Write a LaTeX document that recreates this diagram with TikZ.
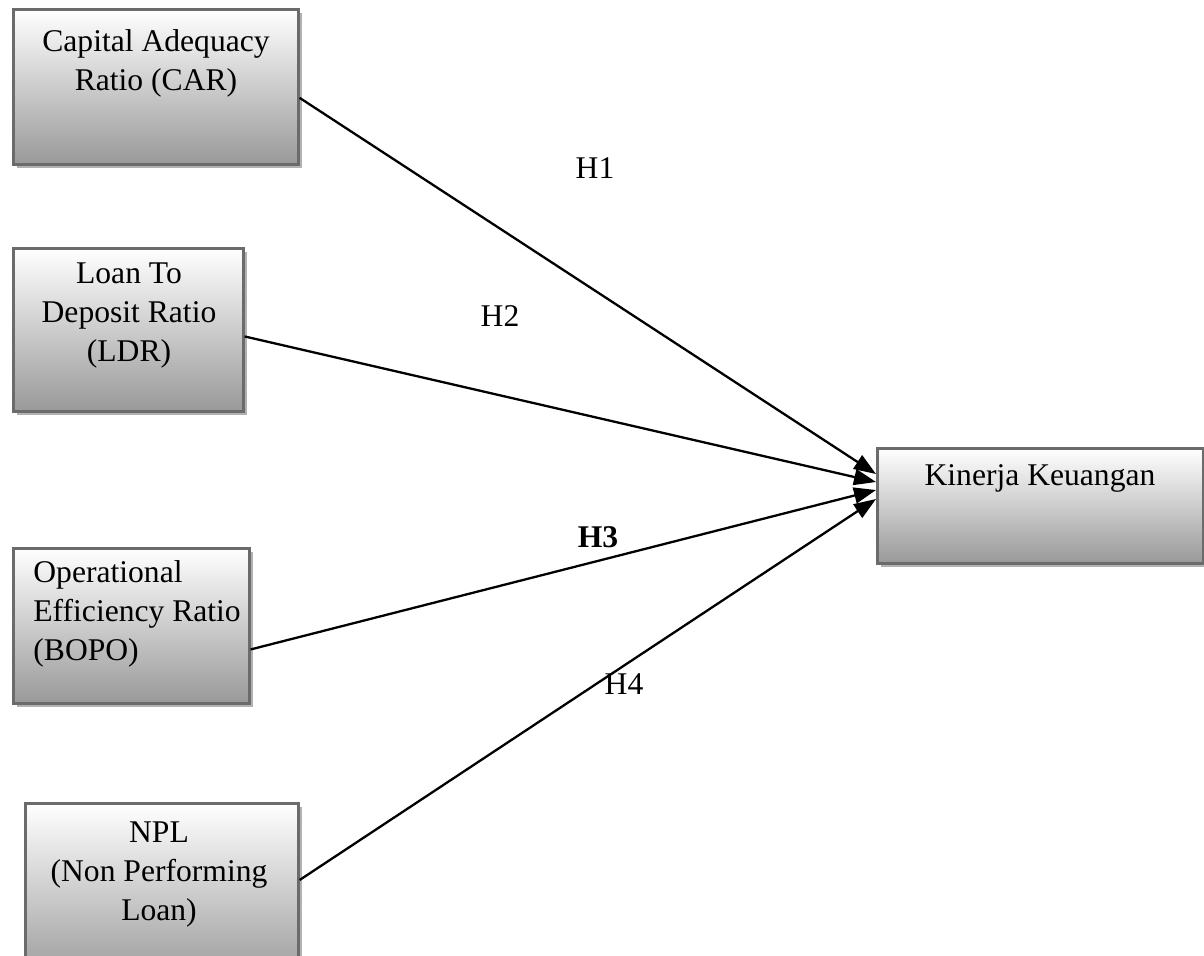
\documentclass[tikz,border=0pt]{standalone}
\usepackage{fontspec}
\setmainfont{Liberation Serif}
\usetikzlibrary{arrows.meta,shadows,calc}
\begin{document}
\begin{tikzpicture}[x=0.5pt,y=-0.5pt,
  varbox/.style={draw=black!58, line width=1.3pt, top color=white, bottom color=black!40,
    drop shadow={shadow xshift=2pt, shadow yshift=-2pt, fill=black!30, opacity=1}},
  boxtext/.style={font=\fontsize{15.8}{19.5}\selectfont, inner sep=0pt},
  hlabel/.style={font=\fontsize{15.8}{19.5}\selectfont, inner sep=0pt},
  link/.style={line width=1.15pt, -{Triangle[length=11pt,width=8pt]}}]
\useasboundingbox (0,0) rectangle (1204,955);
% boxes
\node[varbox, minimum width=142.5pt, minimum height=77.5pt, anchor=north west, inner sep=0pt] (car) at (12,8) {};
\node[varbox, minimum width=115pt, minimum height=81.5pt, anchor=north west, inner sep=0pt] (ldr) at (12,247) {};
\node[varbox, minimum width=118pt, minimum height=77.5pt, anchor=north west, inner sep=0pt] (bopo) at (12,547) {};
\node[varbox, minimum width=136.5pt, minimum height=90pt, anchor=north west, inner sep=0pt] (npl) at (24,802) {};
\node[varbox, minimum width=163pt, minimum height=57.5pt, anchor=north west, inner sep=0pt] (kk) at (876,447) {};
% texts
\node[boxtext, align=center] (cart) at (156,63) {Capital Adequacy\\Ratio (CAR)};
\node[boxtext, align=center] (ldrt) at (129,316) {Loan To\\Deposit Ratio\\(LDR)};
\node[boxtext, align=left, anchor=west] (bopot) at (33,614) {Operational\\Efficiency Ratio\\(BOPO)};
\node[boxtext, align=center] (nplt) at (159,874) {NPL\\(Non Performing\\Loan)};
\node[boxtext] (kkt) at (1040,478) {Kinerja Keuangan};
% arrow end points on the target box
\coordinate (e1) at (876,474);
\coordinate (e2) at (876,482);
\coordinate (e3) at (876,490);
\coordinate (e4) at (876,499);
\coordinate (s1) at ($(car.north east)!0.57!(car.south east)$);
\coordinate (s2) at ($(ldr.north east)!0.54!(ldr.south east)$);
\coordinate (s3) at ($(bopo.north east)!0.65!(bopo.south east)$);
\coordinate (s4) at ($(npl.north east)+(0,78)$);
\draw[link] (s1) -- (e1);
\draw[link] (s2) -- (e2);
\draw[link] (s3) -- (e3);
\draw[link] (s4) -- (e4);
% labels
\node[hlabel] (h1) at (595,168) {H1};
\node[hlabel] (h2) at (500,316) {H2};
\node[hlabel, font=\fontsize{15.8}{19.5}\selectfont\bfseries] (h3) at (598,537) {H3};
\node[hlabel] (h4) at (624,684) {H4};
\end{tikzpicture}
\end{document}
